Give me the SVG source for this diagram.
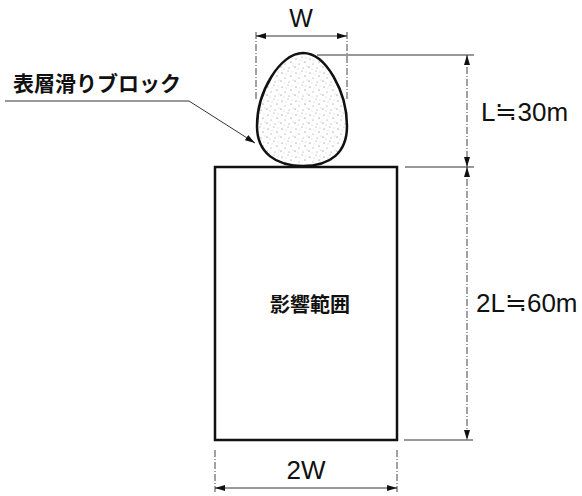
<svg xmlns="http://www.w3.org/2000/svg" width="582" height="496" viewBox="0 0 582 496">
<style>
.dim{stroke:#333;stroke-width:1;fill:none}
.dash{stroke:#444;stroke-width:1;fill:none;stroke-dasharray:7 2 1 2}
.lat{font-family:"Liberation Sans",Arial,sans-serif;fill:#111}
.jp{font-family:"Noto Sans CJK JP",sans-serif;font-weight:bold;fill:#111}
</style>
<defs>
<marker id="ah" viewBox="0 0 10 6" refX="10" refY="3" markerWidth="10" markerHeight="6" markerUnits="userSpaceOnUse" orient="auto-start-reverse">
<path d="M0,0 L10,3 L0,6 Z" fill="#111"/>
</marker>
<pattern id="dots" width="14" height="14" patternUnits="userSpaceOnUse">
<rect width="14" height="14" fill="#fff"/>
<circle cx="2" cy="3" r="0.6" fill="#666"/>
<circle cx="8" cy="1" r="0.5" fill="#777"/>
<circle cx="11" cy="6" r="0.6" fill="#666"/>
<circle cx="5" cy="8" r="0.5" fill="#777"/>
<circle cx="1" cy="11" r="0.6" fill="#666"/>
<circle cx="9" cy="12" r="0.5" fill="#777"/>
<circle cx="13" cy="10" r="0.4" fill="#888"/>
<circle cx="6" cy="4" r="0.4" fill="#888"/>
<circle cx="4" cy="13" r="0.4" fill="#888"/>
<circle cx="12" cy="2" r="0.4" fill="#888"/>
</pattern>
</defs>
<g id="block">
<path d="M303,53 C326,53 347,92 347,126 C347,153 330,166 303,166 C276,166 257,153 257,126 C257,92 280,53 303,53 Z" fill="url(#dots)" stroke="#111" stroke-width="2.5"/>
</g>
<g id="influence">
<rect x="215" y="167" width="182" height="273" fill="none" stroke="#111" stroke-width="2.5"/>
<text class="jp" x="310" y="312" font-size="20" text-anchor="middle">影響範囲</text>
</g>
<g id="label-block">
<text class="jp" x="13" y="91" font-size="21">表層滑りブロック</text>
</g>
<g id="connectors">
<path class="dim" d="M5,101 L189,101 L255,143" marker-end="url(#ah)"/>
<line class="dash" x1="256" y1="32" x2="256" y2="100"/>
<line class="dash" x1="347" y1="32" x2="347" y2="100"/>
<line class="dim" x1="256" y1="36" x2="347" y2="36" marker-start="url(#ah)" marker-end="url(#ah)"/>
<line class="dim" x1="317" y1="55" x2="474" y2="55"/>
<line class="dim" x1="405" y1="167" x2="474" y2="167"/>
<line class="dim" x1="404" y1="440" x2="473" y2="440"/>
<line class="dash" x1="467" y1="55" x2="467" y2="167" marker-start="url(#ah)" marker-end="url(#ah)"/>
<line class="dash" x1="467" y1="167" x2="467" y2="440" marker-start="url(#ah)" marker-end="url(#ah)"/>
<line class="dash" x1="215" y1="450" x2="215" y2="492"/>
<line class="dash" x1="397" y1="450" x2="397" y2="492"/>
<line class="dim" x1="215" y1="488" x2="397" y2="488" marker-start="url(#ah)" marker-end="url(#ah)"/>
</g>
<g id="dim-labels">
<text class="lat" x="301" y="27" font-size="25" text-anchor="middle">W</text>
<text class="lat" x="481" y="121" font-size="26">L≒30m</text>
<text class="lat" x="476" y="312" font-size="26">2L≒60m</text>
<text class="lat" x="306" y="479" font-size="26" text-anchor="middle">2W</text>
</g>
</svg>
